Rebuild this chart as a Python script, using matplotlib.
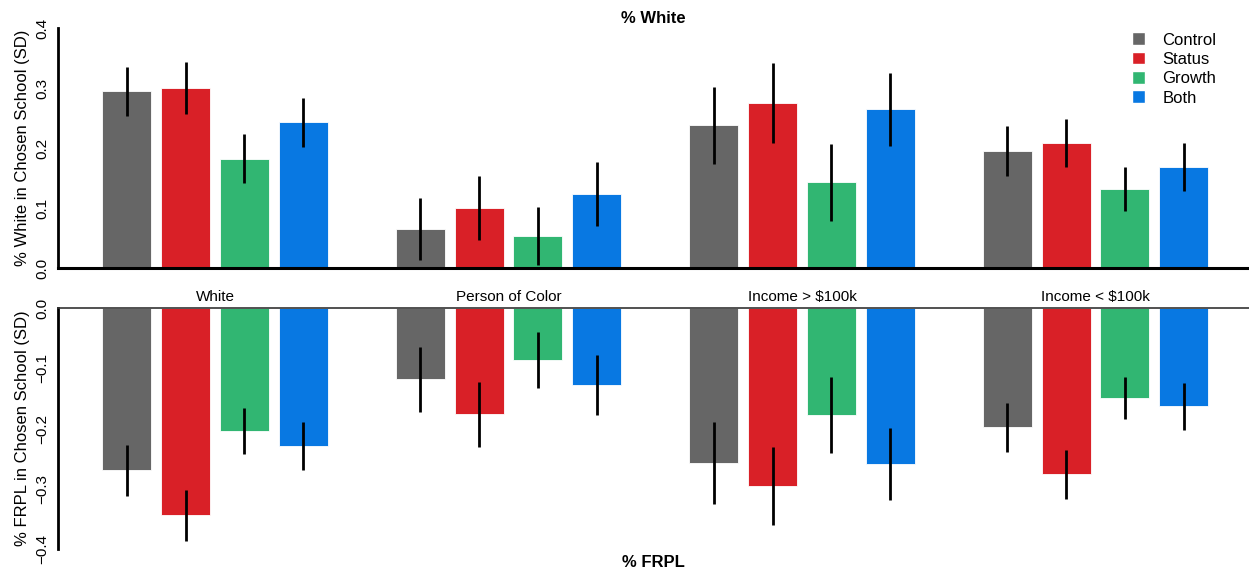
import numpy as np
import matplotlib
matplotlib.use("Agg")
import matplotlib.pyplot as plt
from matplotlib.patches import Patch

plt.rcParams['font.family'] = ['Liberation Sans', 'DejaVu Sans']

groups = ["White", "Person of Color", "Income > $100k", "Income < $100k"]
arms = ["Control", "Status", "Growth", "Both"]
colors = ["#666666", "#D92027", "#31B672", "#0878E2"]

# % White in chosen school (rows = groups, cols = arms)
white_est = [[0.295, 0.300, 0.182, 0.243],
             [0.065, 0.100, 0.053, 0.123],
             [0.238, 0.275, 0.143, 0.265],
             [0.195, 0.208, 0.132, 0.168]]
white_err = [[0.041, 0.043, 0.041, 0.041],
             [0.051, 0.053, 0.048, 0.053],
             [0.064, 0.067, 0.064, 0.061],
             [0.041, 0.040, 0.037, 0.040]]

# % FRPL in chosen school
frpl_est = [[-0.269, -0.344, -0.204, -0.229],
            [-0.118, -0.176, -0.086, -0.128],
            [-0.257, -0.295, -0.178, -0.259],
            [-0.198, -0.276, -0.149, -0.163]]
frpl_err = [[0.042, 0.042, 0.038, 0.040],
            [0.054, 0.054, 0.047, 0.050],
            [0.068, 0.065, 0.063, 0.060],
            [0.040, 0.040, 0.035, 0.039]]

fig = plt.figure(figsize=(12.49, 5.75), dpi=100)
ax1 = fig.add_axes([0.0464, 0.534, 0.9536, 0.417])
ax2 = fig.add_axes([0.0464, 0.045, 0.9536, 0.419])

x = np.arange(len(groups))
step = 0.2
width = 0.167
offsets = (np.arange(len(arms)) - 1.5) * step

def draw(ax, est, err):
    est = np.array(est)
    err = np.array(err)
    for j, arm in enumerate(arms):
        ax.bar(x + offsets[j], est[:, j], width, color=colors[j],
               edgecolor="#ffffff", linewidth=0.6, label=arm, zorder=2)
        ax.errorbar(x + offsets[j], est[:, j], yerr=err[:, j], fmt="none",
                    ecolor="black", elinewidth=2, capsize=0, zorder=3)
    ax.set_xlim(-0.535, 3.523)
    ax.set_xticks([])
    ax.spines["right"].set_visible(False)
    ax.tick_params(axis="y", length=0, labelsize=11, pad=6)

draw(ax1, white_est, white_err)
ax1.set_ylim(0, 0.4)
ax1.set_yticks([0.0, 0.1, 0.2, 0.3, 0.4])
ax1.set_yticklabels(["0.0", "0.1", "0.2", "0.3", "0.4"], rotation=90, va="center")
ax1.spines["top"].set_visible(False)
ax1.spines["left"].set_linewidth(2)
ax1.spines["bottom"].set_linewidth(2.2)
ax1.set_ylabel("% White in Chosen School (SD)", fontsize=12, labelpad=4)
ax1.set_title("% White", fontsize=12, fontweight="bold", pad=4)

draw(ax2, frpl_est, frpl_err)
ax2.set_ylim(-0.4, 0)
ax2.set_yticks([-0.4, -0.3, -0.2, -0.1, 0.0])
ax2.set_yticklabels(["\u22120.4", "\u22120.3", "\u22120.2", "\u22120.1", "0.0"], rotation=90, va="center")
ax2.spines["bottom"].set_visible(False)
ax2.spines["left"].set_linewidth(2)
ax2.spines["top"].set_linewidth(1.2)
ax2.spines["top"].set_color("#333333")
ax2.set_ylabel("% FRPL in Chosen School (SD)", fontsize=12, labelpad=4)
ax2.set_xlabel("% FRPL", fontsize=12, fontweight="bold", labelpad=4)

# group labels between the panels
for i, g in enumerate(groups):
    ax2.text(x[i], 1.0 + 0.045, g, transform=ax2.get_xaxis_transform(),
             ha="center", va="center", fontsize=11)

handles = [Patch(facecolor=c, edgecolor="#ffffff", label=a) for a, c in zip(arms, colors)]
ax1.legend(handles=handles, loc="upper right", bbox_to_anchor=(0.985, 1.045),
           frameon=False, fontsize=12, handlelength=0.8, handleheight=0.8,
           handletextpad=1.0, labelspacing=0.25)

fig.savefig("out.png", dpi=100)
